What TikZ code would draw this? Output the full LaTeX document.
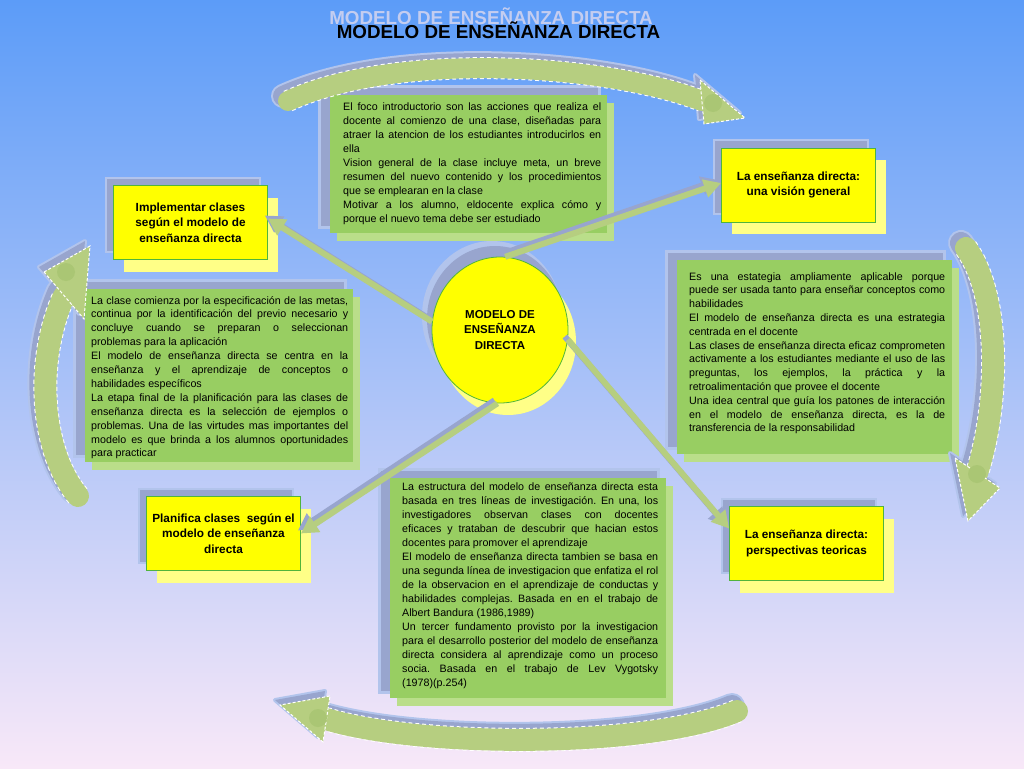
\documentclass[tikz,border=0pt]{standalone}
\usepackage{fontspec}
\setmainfont{Liberation Sans}
\usetikzlibrary{arrows.meta,shapes.geometric}
\frenchspacing
\definecolor{bgtop}{RGB}{92,156,248}
\definecolor{bgmid}{RGB}{140,190,246}
\definecolor{bgbot}{RGB}{248,232,248}
\definecolor{arrg}{RGB}{182,206,128}
\definecolor{arrdark}{RGB}{170,198,116}
\definecolor{shd}{RGB}{152,165,206}
\definecolor{halo}{RGB}{178,196,236}
\definecolor{tbg}{RGB}{152,206,98}
\definecolor{tbl}{RGB}{186,222,138}
\definecolor{ylw}{RGB}{255,255,0}
\definecolor{ylwl}{RGB}{255,255,135}
\definecolor{ybord}{RGB}{80,180,60}
\definecolor{ghost}{RGB}{196,205,240}

% big curved arrow: width, body path, head path, head circle centre
\newcommand{\bigarr}[4]{%
  \begin{scope}[shift={(-5,-5)}]
    \draw[halo, line width=#1pt+4pt, line cap=round] #2;
    \filldraw[halo, line width=4pt, line join=round] #3;
    \draw[shd, line width=#1pt, line cap=round] #2;
    \fill[shd] #3;
  \end{scope}
  \draw[white, line width=#1pt+2pt, dash pattern=on 4pt off 3pt] #2;
  \draw[arrg, line width=#1pt, line cap=round] #2;
  \filldraw[fill=arrg, draw=white, line width=1pt, dash pattern=on 3pt off 2pt] #3;
  \fill[arrdark] #4 circle (9);
}
% text box background: x1 y1 x2 y2
\newcommand{\tbback}[4]{%
  \fill[halo] (#1-12,#2-10) rectangle (#3-6,#4-4);
  \fill[shd] (#1-9,#2-7) rectangle (#3-9,#4-7);
  \fill[tbl] (#1+7,#2+8) rectangle (#3+7,#4+8);
  \fill[tbg] (#1,#2) rectangle (#3,#4);
}
\newcommand{\tbpar}[3]{\parbox[t]{#1pt}{\baselineskip=#2pt\relax
  \spaceskip=0.278em plus 0.7em minus 0.12em\relax
  \hyphenpenalty=10000\exhyphenpenalty=10000\tolerance=10000\parindent=0pt\relax
  #3}}
\newcommand{\ybox}[4]{%
  \node[ysh, xshift=-8pt, yshift=8pt] (#1s) at (#2,#3) {};
  \node[yli, xshift=10pt, yshift=-12pt] (#1l) at (#2,#3) {};
  \node[ymain] (#1) at (#2,#3) {#4};
}

\begin{document}
\begin{tikzpicture}[x=1pt,y=-1pt,
  tbtext/.style={anchor=base west, inner sep=0pt, font=\fontsize{10.7}{14}\selectfont, text=black},
  ysh/.style={rectangle, fill=shd, draw=halo, line width=2pt, minimum width=154pt, minimum height=74pt, inner sep=0pt},
  yli/.style={rectangle, fill=ylwl, minimum width=154pt, minimum height=74pt, inner sep=0pt},
  ymain/.style={rectangle, fill=ylw, draw=ybord, line width=0.8pt, minimum width=154pt, minimum height=74pt, inner sep=0pt, align=center, font=\bfseries\fontsize{11.8}{15.5}\selectfont},
  conn/.style={arrg, line width=6pt, -{Triangle[length=17pt,width=18pt]}},
  connsh/.style={shd, line width=6pt, -{Triangle[length=17pt,width=18pt]}},
  titlef/.style={font=\bfseries\fontsize{18.8}{22}\selectfont, anchor=base, inner sep=0pt},
]
\useasboundingbox (0,0) rectangle (1024,768);
\shade[top color=bgtop, middle color=bgmid, bottom color=bgbot] (0,0) rectangle (1024,768);

% title
\node[titlef, text=ghost] (ghost) at (491,25) {MODELO DE ENSEÑANZA DIRECTA};
\node[titlef, text=black] (title) at (498.5,38.5) {MODELO DE ENSEÑANZA DIRECTA};

% text boxes
\tbback{330}{95}{607}{233}
\tbback{85}{289}{353}{462}
\tbback{677}{260}{952}{454}
\tbback{390}{478}{666}{698}

\node[tbtext] (t1) at (343,110) {\tbpar{258}{14}{El foco introductorio son las acciones que realiza el\linebreak
docente al comienzo de una clase, diseñadas para\linebreak
atraer la atencion de los estudiantes introducirlos en\linebreak
ella\par
Vision general de la clase incluye meta, un breve\linebreak
resumen del nuevo contenido y los procedimientos\linebreak
que se emplearan en la clase\par
Motivar a los alumno, eldocente explica cómo y\linebreak
porque el nuevo tema debe ser estudiado}};

\node[tbtext] (t2) at (91,304) {\tbpar{257}{13.9}{La clase comienza por la especificación de las metas,\linebreak
continua por la identificación del previo necesario y\linebreak
concluye cuando se preparan o seleccionan\linebreak
problemas para la aplicación\par
El modelo de enseñanza directa se centra en la\linebreak
enseñanza y el aprendizaje de conceptos o\linebreak
habilidades específicos\par
La etapa final de la planificación para las clases de\linebreak
enseñanza directa es la selección de ejemplos o\linebreak
problemas. Una de las virtudes mas importantes del\linebreak
modelo es que brinda a los alumnos oportunidades\linebreak
para practicar}};

\node[tbtext] (t3) at (689,280) {\tbpar{256}{13.8}{Es una estategia ampliamente aplicable porque\linebreak
puede ser usada tanto para enseñar conceptos como\linebreak
habilidades\par
El modelo de enseñanza directa es una estrategia\linebreak
centrada en el docente\par
Las clases de enseñanza directa eficaz comprometen\linebreak
activamente a los estudiantes mediante el uso de las\linebreak
preguntas, los ejemplos, la práctica y la\linebreak
retroalimentación que provee el docente\par
Una idea central que guía los patones de interacción\linebreak
en el modelo de enseñanza directa, es la de\linebreak
transferencia de la responsabilidad}};

\node[tbtext] (t4) at (402,490) {\tbpar{256}{14}{La estructura del modelo de enseñanza directa esta\linebreak
basada en tres líneas de investigación. En una, los\linebreak
investigadores observan clases con docentes\linebreak
eficaces y trataban de descubrir que hacian estos\linebreak
docentes para promover el aprendizaje\par
El modelo de enseñanza directa tambien se basa en\linebreak
una segunda línea de investigacion que enfatiza el rol\linebreak
de la observacion en el aprendizaje de conductas y\linebreak
habilidades complejas. Basada en en el trabajo de\linebreak
Albert Bandura (1986,1989)\par
Un tercer fundamento provisto por la investigacion\linebreak
para el desarrollo posterior del modelo de enseñanza\linebreak
directa considera al aprendizaje como un proceso\linebreak
socia. Basada en el trabajo de Lev Vygotsky\linebreak
(1978)(p.254)}};

% big curved arrows
\bigarr{20}{(288,101) .. controls (400,50) and (610,65) .. (702,101)}{(700,80) -- (745,118) -- (704,124) -- cycle}{(713,103)}
\bigarr{22}{(966,248) .. controls (1000,295) and (1000,400) .. (977,473)}{(955,458) -- (1000,488) -- (968,521) -- cycle}{(977,474)}
\bigarr{22}{(737,711) .. controls (650,748) and (420,748) .. (326,719)}{(330,696) -- (280,705) -- (323,742) -- cycle}{(318,718)}
\bigarr{22}{(78,496) .. controls (40,450) and (35,360) .. (64,296)}{(44,272) -- (90,246) -- (84,319) -- cycle}{(66,272)}

% yellow boxes
\ybox{b1}{190.5}{222.5}{Implementar clases\\según el modelo de\\enseñanza directa}
\ybox{b2}{798.5}{185}{La enseñanza directa:\\una visión general}
\ybox{b3}{223.5}{533.5}{Planifica clases\ \ según el\\modelo de enseñanza\\directa}
\ybox{b4}{806.5}{543.5}{La enseñanza directa:\\perspectivas teoricas}

% central circle
\fill[halo] (492,316) ellipse (70 and 75);
\fill[shd] (495,319) ellipse (68 and 73);
\fill[ylwl] (508,342) ellipse (68 and 73);
\node[ellipse, fill=ylw, draw=ybord, line width=0.8pt, minimum width=136pt, minimum height=146pt, inner sep=0pt, align=center, font=\bfseries\fontsize{11.5}{15.5}\selectfont] (c) at (500,330) {MODELO DE\\ENSEÑANZA\\DIRECTA};

% connectors
\draw[connsh, transform canvas={xshift=-3pt,yshift=3pt}] (c.173) -- ([yshift=4pt]b1.east);
\draw[connsh, transform canvas={xshift=-3pt,yshift=3pt}] (c.86) -- ([yshift=2pt]b2.west);
\draw[connsh, transform canvas={xshift=-3pt,yshift=3pt}] (c.-92) -- (b3.east);
\draw[connsh, transform canvas={xshift=-3pt,yshift=3pt}] (c.-8) -- ([yshift=15pt]b4.west);
\draw[conn] (c.173) -- ([yshift=4pt]b1.east);
\draw[conn] (c.86) -- ([yshift=2pt]b2.west);
\draw[conn] (c.-92) -- (b3.east);
\draw[conn] (c.-8) -- ([yshift=15pt]b4.west);
\end{tikzpicture}
\end{document}
